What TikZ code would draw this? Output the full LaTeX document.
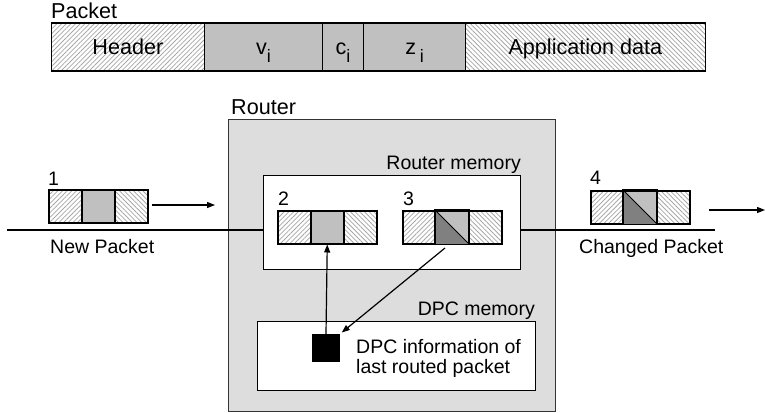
\documentclass[tikz,border=0pt]{standalone}
\usepackage{fontspec}
\setmainfont{Liberation Sans}
\usetikzlibrary{patterns.meta,arrows.meta}

\definecolor{cellgray}{HTML}{C0C0C0}
\definecolor{darkcell}{HTML}{808080}
\definecolor{routergray}{HTML}{DDDDDD}
\definecolor{hatchgray}{HTML}{A8A8A8}

\tikzset{
  bigtxt/.style={font=\fontsize{21.6}{24}\selectfont},
  normtxt/.style={font=\fontsize{19.5}{20}\selectfont},
  hatchR/.style={pattern={Lines[angle=45,distance=3.3pt,line width=0.8pt]},pattern color=hatchgray},
  hatchL/.style={pattern={Lines[angle=-45,distance=3.3pt,line width=0.8pt]},pattern color=hatchgray},
  barcell/.style={draw,line width=1.1pt,minimum height=48pt,inner sep=0pt,anchor=west,
    bigtxt,text height=17pt,text depth=2pt},
  pcell/.style={draw,line width=1.5pt,minimum width=33pt,minimum height=33pt,inner sep=0pt,anchor=north west},
  arr/.style={-{Triangle[length=8pt,width=6pt]},line width=1.2pt},
  membox/.style={draw,fill=white,line width=0.9pt,inner sep=0pt,anchor=north west},
  sub/.style={},
}
\newcommand{\subi}{\raisebox{-8pt}{\fontsize{18}{18}\selectfont i}}

\begin{document}
\begin{tikzpicture}[x=1pt,y=-1pt]
\useasboundingbox (0,0) rectangle (765,412);

% ---- packet format bar ----
\node[bigtxt,anchor=base west,inner sep=0pt] (pktlbl) at (51,19) {Packet};
\node[barcell,hatchR,minimum width=153pt] (hdr) at (51,47) {Header};
\node[barcell,fill=cellgray,minimum width=118pt] (vi) at (204,47) {v\subi};
\node[barcell,fill=cellgray,minimum width=41pt] (ci) at (322,47) {c\subi};
\node[barcell,fill=cellgray,minimum width=102pt] (zi) at (363,47) {z\,\subi};
\node[barcell,hatchL,minimum width=240pt] (app) at (465,47) {Application data};

% ---- router ----
\node[draw=black!80,fill=routergray,line width=0.8pt,minimum width=327pt,minimum height=292pt,
      inner sep=0pt,anchor=north west] (router) at (228,119) {};
\node[bigtxt,anchor=base west,inner sep=0pt] (routerlbl) at (231,114) {Router};

\node[membox,minimum width=257pt,minimum height=94pt] (rmem) at (263,175) {};
\node[normtxt,anchor=base east,inner sep=0pt] (rmemlbl) at (521,169) {Router memory};

\node[membox,minimum width=278pt,minimum height=69pt] (dmem) at (257,321) {};
\node[normtxt,anchor=base east,inner sep=0pt] (dmemlbl) at (535,315) {DPC memory};

\node[fill=black,minimum width=28pt,minimum height=28pt,inner sep=0pt] (sq) at (326,348) {};
\node[normtxt,anchor=north west,inner sep=0pt,align=left] (dpctxt) at (356,339)
  {DPC information of\\last routed packet};

% ---- transmission line ----
\coordinate (lineL) at (7,230);
\coordinate (lineR) at (715,230);
\draw[line width=1.5pt] (lineL) -- (lineL -| rmem.west);
\draw[line width=1.5pt] (lineR -| rmem.east) -- (lineR);

% ---- packet 1 ----
\node[pcell,hatchR] (p1a) at (48,189) {};
\node[pcell,fill=cellgray] (p1b) at (81,189) {};
\node[pcell,hatchL] (p1c) at (114,189) {};
\node[normtxt,anchor=base west,inner sep=0pt] (n1) at (48,185) {1};
\node[normtxt,anchor=base west,inner sep=0pt] (newlbl) at (50,253) {New Packet};
\coordinate (a1s) at (152,205);
\coordinate (a1e) at (215,205);
\draw[arr] (a1s) -- (a1e);

% ---- packet 2 ----
\node[pcell,hatchR] (p2a) at (277,210) {};
\node[pcell,fill=cellgray] (p2b) at (310,210) {};
\node[pcell,hatchL] (p2c) at (343,210) {};
\node[normtxt,anchor=base west,inner sep=0pt] (n2) at (278,205) {2};

% ---- packet 3 ----
\node[pcell,hatchR] (p3a) at (402,210) {};
\node[pcell,fill=cellgray] (p3b) at (435,210) {};
\fill[darkcell] (p3b.north west) -- (p3b.south east) -- (p3b.south west) -- cycle;
\draw[line width=0.8pt] (p3b.north west) -- (p3b.south east);
\draw[line width=1.5pt] (p3b.north west) rectangle (p3b.south east);
\node[pcell,hatchL] (p3c) at (468,210) {};
\node[normtxt,anchor=base west,inner sep=0pt] (n3) at (403,205) {3};

% ---- packet 4 ----
\node[pcell,hatchR] (p4a) at (590,190) {};
\node[pcell,fill=cellgray] (p4b) at (623,190) {};
\fill[darkcell] (p4b.north west) -- (p4b.south east) -- (p4b.south west) -- cycle;
\draw[line width=0.8pt] (p4b.north west) -- (p4b.south east);
\draw[line width=1.5pt] (p4b.north west) rectangle (p4b.south east);
\node[pcell,hatchL] (p4c) at (656,190) {};
\node[normtxt,anchor=base west,inner sep=0pt] (n4) at (590,184) {4};
\node[normtxt,anchor=base west,inner sep=0pt] (chglbl) at (579,253) {Changed Packet};
\coordinate (a4s) at (709,210);
\coordinate (a4e) at (765,210);
\draw[arr] (a4s) -- (a4e);

% ---- internal arrows ----
\draw[arr] (sq.north) -- (p2b.south);
\coordinate (d1) at (445,248);
\draw[arr,shorten >=2pt] (d1) -- (sq.north east);
\end{tikzpicture}
\end{document}
